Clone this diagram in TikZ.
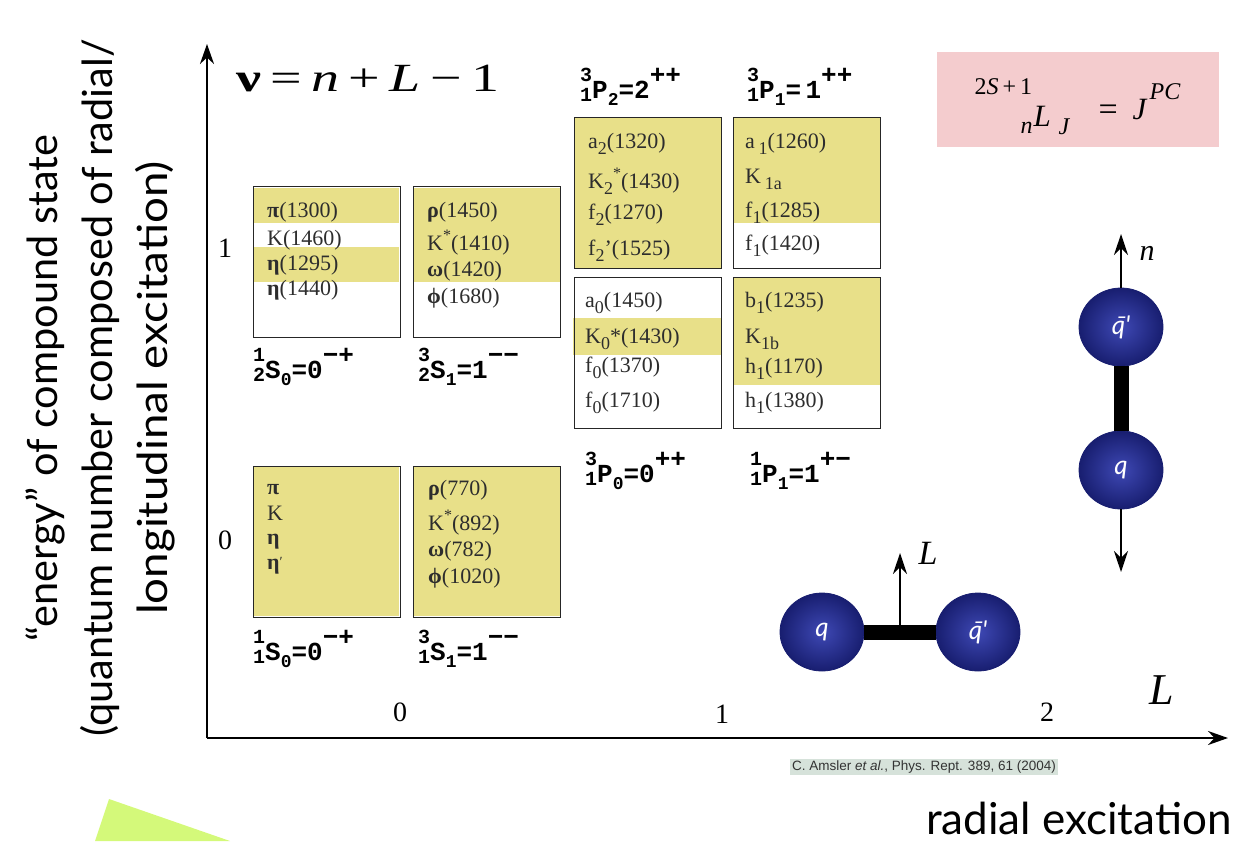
\documentclass[tikz,border=0pt]{standalone}
\usepackage{fontspec}
\setmainfont{Liberation Serif}
\setmonofont{Liberation Mono}
\newfontfamily\gill{Lato}
\newfontfamily\arialf{Liberation Sans}
\usetikzlibrary{arrows.meta,shapes.geometric}

\definecolor{band}{RGB}{232,224,137}
\definecolor{pinkbox}{RGB}{244,204,206}
\definecolor{lime}{RGB}{212,249,122}
\definecolor{citebg}{RGB}{214,226,218}
\definecolor{ballin}{RGB}{62,72,180}
\definecolor{ballout}{RGB}{24,30,112}
\definecolor{rowtext}{RGB}{45,45,45}

% lowered / raised pieces for the particle names
\newcommand{\lo}[1]{\raisebox{-0.28em}{\fontsize{18}{18}\selectfont #1}}
\newcommand{\hi}[1]{\raisebox{0.42em}{\fontsize{16}{16}\selectfont #1}}
% spectroscopic label  ^{a}_{b}X_{c}=d^{e}
\newcommand{\spec}[6]{\makebox[0pt][l]{\raisebox{0.62em}{\fontsize{20}{20}\selectfont #1}}%
  \raisebox{-0.15em}{\fontsize{20}{20}\selectfont #2}#3\lo{#4}=#5\raisebox{0.55em}{#6}}
% pieces of the notation key, placed at a horizontal offset and a vertical shift
\newcommand{\keyscript}{\fontsize{24}{24}\selectfont}
\newcommand{\kpiece}[3]{\makebox[0pt][l]{\hspace{#1}\raisebox{#2}{#3}}}

\tikzset{
  axis/.style={line width=2.4pt,-{Stealth[length=20pt,width=14pt]}},
  stateframe/.style={draw=black!85,line width=1.4pt,minimum width=147pt,minimum height=151pt,anchor=north west,inner sep=0pt},
  bandfill/.style={fill=band,draw=none},
  row/.style={anchor=base west,inner sep=0pt,text=rowtext,font=\fontsize{22}{22}\selectfont},
  speclab/.style={anchor=base west,inner sep=0pt,font=\ttfamily\bfseries\fontsize{26}{26}\selectfont},
  tick/.style={inner sep=0pt,font=\fontsize{28}{28}\selectfont},
  quark/.style={ellipse,minimum width=84pt,minimum height=78pt,shading=radial,inner color=ballin,outer color=ballout,
    draw=ballout,line width=0.8pt,text=white,font=\gill\itshape\fontsize{26}{26}\selectfont,inner sep=0pt},
  link/.style={line width=15pt},
  spin/.style={line width=2.6pt,-{Stealth[length=21pt,width=14pt]}}
}

\begin{document}
\begin{tikzpicture}[x=1pt,y=-1pt]
\useasboundingbox (0,0) rectangle (1244,841);

% decorative wedge in the lower left corner
\fill[lime] (109,799) -- (230,841) -- (95,841) -- cycle;

% axes
\coordinate (O) at (207,738);
\coordinate (ytip) at (207,44);
\coordinate (xtip) at (1228,738);
\draw[axis] (O) -- (ytip);
\draw[axis] (O) -- (xtip);

% axis titles
\node[rotate=90,align=center,inner sep=0pt,font=\gill\fontsize{41.5}{55}\selectfont] (ytitle) at (100,388)
  {“energy” of compound state\\(quantum number composed of radial/\\\scalebox{1.1}[1]{longitudinal excitation)}};
\node[anchor=base east,inner sep=0pt,font=\gill\fontsize{44}{44}\selectfont] (xtitle) at (1232,834) {radial excitation};

% formula at the top
\node[anchor=base west,inner sep=0pt,font=\fontsize{40}{40}\selectfont] (nu) at (236,91)
  {\scalebox{1.4}[1]{\textbf{ν}\,=\,\textit{n}\,+\,\textit{L}\,−\,1}};

% tick labels
\node[tick] (t1) at (225,248) {1};
\node[tick] (t0) at (225,540) {0};
\node[tick] (l0) at (400,712) {0};
\node[tick] (l1) at (722,714) {1};
\node[tick] (l2) at (1047,712) {2};
\node[inner sep=0pt,font=\itshape\fontsize{44}{44}\selectfont] (Lax) at (1162,690) {L};

% shaded rows
\fill[bandfill] (253,188) rectangle (399,223);
\fill[bandfill] (253,247) rectangle (399,282);
\fill[bandfill] (413,188) rectangle (560,282);
\fill[bandfill] (574,117) rectangle (721,268);
\fill[bandfill] (733,117) rectangle (880,223);
\fill[bandfill] (573,318) rectangle (722,355);
\fill[bandfill] (733,277) rectangle (880,385);
\fill[bandfill] (253,466) rectangle (399,616);
\fill[bandfill] (413,466) rectangle (560,616);

% state frames
\node[stateframe] (bA) at (253,186) {};
\node[stateframe] (bB) at (413,186) {};
\node[stateframe] (bC) at (574,117) {};
\node[stateframe] (bD) at (733,117) {};
\node[stateframe] (bE) at (574,277) {};
\node[stateframe] (bF) at (733,277) {};
\node[stateframe] (bG) at (253,466) {};
\node[stateframe] (bH) at (413,466) {};

% 2S states, n=2
\node[row] (a1) at (267,217) {\textbf{π}(1300)};
\node[row] (a2) at (267,245) {K(1460)};
\node[row] (a3) at (267,270) {\textbf{η}(1295)};
\node[row] (a4) at (267,295) {\textbf{η}(1440)};
\node[row] (b1) at (427,217) {\textbf{ρ}(1450)};
\node[row] (b2) at (427,250) {K\hi{*}(1410)};
\node[row] (b3) at (427,276) {\textbf{ω}(1420)};
\node[row] (b4) at (427,303) {\textbf{ϕ}(1680)};

% P states
\node[row] (c1) at (588,148) {a\lo{2}(1320)};
\node[row] (c2) at (588,188) {K\lo{2}\hi{*}(1430)};
\node[row] (c3) at (588,219) {f\lo{2}(1270)};
\node[row] (c4) at (588,255) {f\lo{2}'(1525)};
\node[row] (d1) at (745,148) {a\,\lo{1}(1260)};
\node[row] (d2) at (745,183) {K\,\lo{1a}};
\node[row] (d3) at (745,217) {f\lo{1}(1285)};
\node[row] (d4) at (745,250) {f\lo{1}(1420)};
\node[row] (e1) at (585,307) {a\lo{0}(1450)};
\node[row] (e2) at (585,343) {K\lo{0}*(1430)};
\node[row] (e3) at (585,372) {f\lo{0}(1370)};
\node[row] (e4) at (585,407) {f\lo{0}(1710)};
\node[row] (f1) at (745,307) {b\lo{1}(1235)};
\node[row] (f2) at (745,343) {K\lo{1b}};
\node[row] (f3) at (745,373) {h\lo{1}(1170)};
\node[row] (f4) at (745,407) {h\lo{1}(1380)};

% 1S states
\node[row] (g1) at (267,494) {\textbf{π}};
\node[row] (g2) at (267,520) {K};
\node[row] (g3) at (267,544) {\textbf{η}};
\node[row] (g4) at (267,569) {\textbf{η}\raisebox{0.1em}{\fontsize{14}{14}\selectfont ′}};
\node[row] (h1) at (428,495) {\textbf{ρ}(770)};
\node[row] (h2) at (428,530) {K\hi{*}(892)};
\node[row] (h3) at (428,556) {\textbf{ω}(782)};
\node[row] (h4) at (428,583) {\textbf{ϕ}(1020)};

% spectroscopic labels
\node[speclab] (sA) at (253,378) {\spec{1}{2}{S}{0}{0}{−+}};
\node[speclab] (sB) at (418,378) {\spec{3}{2}{S}{1}{1}{−−}};
\node[speclab] (sC) at (580,98) {\spec{3}{1}{P}{2}{2}{++}};
\node[speclab] (sD) at (747,98) {\spec{3}{1}{P}{1}{\,1}{++}};
\node[speclab] (sE) at (585,482) {\spec{3}{1}{P}{0}{0}{++}};
\node[speclab] (sF) at (750,482) {\spec{1}{1}{P}{1}{1}{+−}};
\node[speclab] (sG) at (253,660) {\spec{1}{1}{S}{0}{0}{−+}};
\node[speclab] (sH) at (418,660) {\spec{3}{1}{S}{1}{1}{−−}};

% notation key
\node[fill=pinkbox,minimum width=282pt,minimum height=95pt,inner sep=0pt] (key) at (1078,99.5) {};
\node[anchor=base west,inner sep=0pt,font=\fontsize{31}{31}\selectfont] (keyf) at (974,126)
  {\kpiece{0pt}{32pt}{\keyscript 2\textit{S}\hspace{4pt}+\hspace{4pt}1}%
   \kpiece{46pt}{-7pt}{\keyscript\textit{n}}%
   \kpiece{59pt}{0pt}{\textit{L}}%
   \kpiece{84pt}{-8pt}{\keyscript\textit{J}}%
   \kpiece{124pt}{6pt}{\fontsize{34}{34}\selectfont =}%
   \kpiece{158pt}{7pt}{\textit{J}}%
   \kpiece{175pt}{27pt}{\keyscript\textit{PC}}};

% orbital excitation: q and anti-q side by side
\node[quark] (qL) at (822,632) {q};
\node[quark] (qbL) at (978,632) {\={q}'};
\draw[link] (qL.east) -- (qbL.west);
\coordinate (Lfoot) at (900,632);
\coordinate (Lhead) at (900,553);
\draw[spin] (Lfoot) -- (Lhead);
\node[inner sep=0pt,font=\itshape\fontsize{34}{34}\selectfont] (Llab) at (928,553) {L};

% radial excitation: q and anti-q stacked
\node[quark] (qbN) at (1121,327) {\={q}'};
\node[quark] (qN) at (1121,470) {q};
\draw[link] (qbN.south) -- (qN.north);
\coordinate (nhead) at (1121,234);
\coordinate (nfoot) at (1121,572);
\draw[spin] (qbN.north) -- (nhead);
\draw[spin] (qN.south) -- (nfoot);
\node[inner sep=0pt,font=\itshape\fontsize{30}{30}\selectfont] (nlab) at (1147,253) {n};

% reference
\node[fill=citebg,inner sep=2pt,text=black!80,font=\arialf\fontsize{13.5}{13.5}\selectfont] (cite) at (924,767)
  {C. Amsler \textit{et al.}, Phys. Rept. 389, 61 (2004)};
\end{tikzpicture}
\end{document}
